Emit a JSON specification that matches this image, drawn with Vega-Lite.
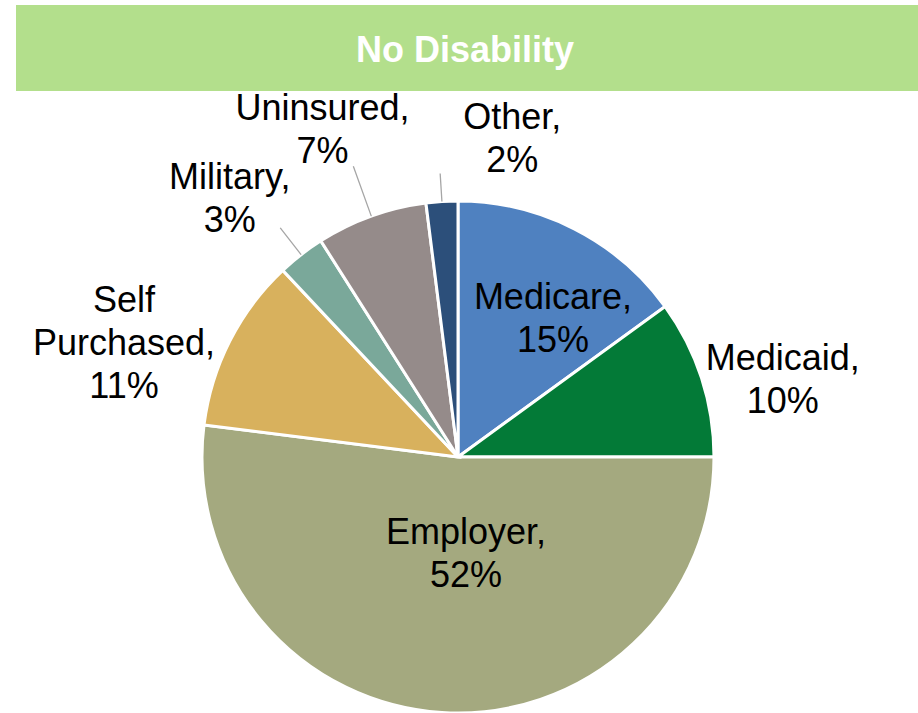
{
  "$schema": "https://vega.github.io/schema/vega-lite/v6.json",
  "width": 918,
  "height": 713,
  "autosize": {"type": "fit", "contains": "padding"},
  "padding": 0,
  "background": "white",
  "config": {"view": {"stroke": null}, "font": "Liberation Sans"},
  "data": {
    "values": [
      {"idx": 1, "category": "Medicare", "value": 15, "label": "Medicare,\n15%"},
      {"idx": 2, "category": "Medicaid", "value": 10, "label": "Medicaid,\n10%"},
      {"idx": 3, "category": "Employer", "value": 52, "label": "Employer,\n52%"},
      {"idx": 4, "category": "Self Purchased", "value": 11, "label": "Self\nPurchased,\n11%"},
      {"idx": 5, "category": "Military", "value": 3, "label": "Military,\n3%"},
      {"idx": 6, "category": "Uninsured", "value": 7, "label": "Uninsured,\n7%"},
      {"idx": 7, "category": "Other", "value": 2, "label": "Other,\n2%"}
    ]
  },
  "layer": [
    {
      "data": {"values": [{"title": "No Disability"}]},
      "mark": {"type": "rect", "x": 16, "x2": 918, "y": 5, "y2": 91, "color": "#b3df8c"},
      "encoding": {}
    },
    {
      "data": {"values": [{"title": "No Disability"}]},
      "mark": {"type": "text", "x": 465, "y": 51, "fontSize": 36, "fontWeight": "bold", "color": "white", "align": "center", "baseline": "middle"},
      "encoding": {"text": {"field": "title", "type": "nominal"}}
    },
    {
      "mark": {"type": "arc", "x": 458, "y": 457, "outerRadius": 256, "stroke": "white", "strokeWidth": 3},
      "encoding": {
        "theta": {"field": "value", "type": "quantitative", "stack": true},
        "order": {"field": "idx", "type": "quantitative"},
        "color": {
          "field": "category",
          "type": "nominal",
          "scale": {
            "domain": ["Medicare", "Medicaid", "Employer", "Self Purchased", "Military", "Uninsured", "Other"],
            "range": ["#4f81c0", "#037a37", "#a4a97f", "#d8b15d", "#7aa89a", "#958b8a", "#2c4f7a"]
          },
          "legend": null
        }
      }
    },
    {
      "mark": {
        "type": "arc", "x": 458, "y": 457, "filled": false,
        "innerRadius": 256,
        "outerRadius": {"expr": "datum.category == 'Uninsured' ? 309 : datum.category == 'Military' ? 290 : 284"},
        "padAngle": 0.6, "stroke": "#a6a6a6", "strokeWidth": 1.3
      },
      "encoding": {
        "theta": {"field": "value", "type": "quantitative", "stack": true},
        "order": {"field": "idx", "type": "quantitative"},
        "detail": {"field": "category", "type": "nominal"},
        "strokeOpacity": {
          "condition": {"test": "indexof(['Military','Uninsured','Other'], datum.category) >= 0", "value": 1},
          "value": 0
        }
      }
    },
    {
      "mark": {
        "type": "text", "x": 458, "y": 457, "fontSize": 36, "lineHeight": 43, "lineBreak": "\n",
        "align": "center", "baseline": "middle", "color": "black",
        "radius": {"expr": "datum.category == 'Medicare' ? 165 : datum.category == 'Medicaid' ? 333 : datum.category == 'Employer' ? 97 : datum.category == 'Self Purchased' ? 349 : datum.category == 'Military' ? 343 : datum.category == 'Uninsured' ? 353 : 313"},
        "dx": {"expr": "datum.category == 'Medicare' ? 20 : datum.category == 'Medicaid' ? 8 : datum.category == 'Employer' ? 14 : datum.category == 'Self Purchased' ? -23 : datum.category == 'Military' ? -18 : datum.category == 'Uninsured' ? -16 : 74"},
        "dy": {"expr": "datum.category == 'Medicare' ? -11.5 : datum.category == 'Medicaid' ? 4.5 : datum.category == 'Employer' ? -20.5 : datum.category == 'Self Purchased' ? 2 : datum.category == 'Military' ? -7.5 : datum.category == 'Uninsured' ? -15.5 : -26.5"}
      },
      "encoding": {
        "theta": {"field": "value", "type": "quantitative", "stack": true},
        "order": {"field": "idx", "type": "quantitative"},
        "detail": {"field": "category", "type": "nominal"},
        "text": {"field": "label", "type": "nominal"}
      }
    }
  ]
}
